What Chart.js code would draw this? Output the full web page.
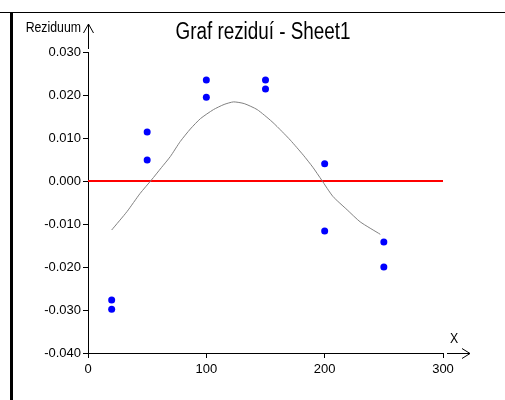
<!DOCTYPE html>
<html>
<head>
<meta charset="utf-8">
<title>Graf reziduí - Sheet1</title>
<script src="https://cdn.jsdelivr.net/npm/chart.js@4.4.1/dist/chart.umd.min.js"></script>
<style>
  html, body { margin: 0; padding: 0; background: #fff; }
  #chart { display: block; }
</style>
</head>
<body>
<canvas id="chart" width="505" height="400"></canvas>
<script>
/* residual plot - scatter of residuals, zero line and smoothed trend */
const FONT = "'Liberation Sans', Arial, sans-serif";
const NARROW = 0.82; // horizontal squeeze to mimic a narrow face

const chartTitle = 'Graf reziduí - Sheet1';
const yAxisLabel = 'Reziduum';
const xAxisLabel = 'X';

// residuals
const pointX = [20, 20, 50, 50, 100, 100, 150, 150, 200, 200, 250, 250];
const residual = [-0.0277, -0.0298, 0.0114, 0.0049, 0.0235, 0.0195, 0.0235, 0.0214, 0.0040, -0.0116, -0.0142, -0.0200];

// grey smoothed trend
const trendX = [20, 33, 44, 53.5, 62, 69.6, 78, 86.5, 95, 106, 115, 123, 132, 143, 155.5, 164, 171, 182, 190, 197.5, 207, 219, 230, 247];
const trendY = [-0.0114, -0.0071, -0.0029, 0.0002, 0.0031, 0.0057, 0.0092, 0.0121, 0.0145, 0.0166, 0.0178, 0.0184, 0.0180, 0.0166, 0.0138, 0.0115, 0.0095, 0.0060, 0.0032, 0.0002, -0.0036, -0.0067, -0.0095, -0.0124];

// zero reference line
const zeroX = [0, 300];
const zeroY = [0, 0];

// axis ranges / ticks
const xMin = 0, xMax = 300, xStep = 100;
const yMin = -0.04, yMax = 0.03, yStep = 0.01;

(function(){
  'use strict';

  const toXY = (xs, ys) => xs.map((x, i) => ({ x: x, y: ys[i] }));

  // squeezed text helper
  function narrowText(ctx, text, x, y, size, align){
    ctx.save();
    ctx.font = size + 'px ' + FONT;
    ctx.textAlign = align;
    ctx.textBaseline = 'alphabetic';
    ctx.translate(x, y);
    ctx.scale(NARROW, 1);
    ctx.fillText(text, 0, 0);
    ctx.restore();
  }

  // frame, arrows and captions drawn on top of the chart
  const decorations = {
    id: 'decorations',
    afterDraw(chart){
      const ctx = chart.ctx;
      const xs = chart.scales.x, ys = chart.scales.y;
      const ax = xs.getPixelForValue(xMin);
      const ay = ys.getPixelForValue(yMin);
      const top = ys.getPixelForValue(yMax);
      const right = xs.getPixelForValue(xMax);
      ctx.save();
      ctx.strokeStyle = '#000';
      ctx.fillStyle = '#000';

      // outer frame: top line and thick left bar
      ctx.lineWidth = 1;
      ctx.beginPath();
      ctx.moveTo(0, 12.5); ctx.lineTo(505, 12.5);
      ctx.stroke();
      ctx.lineWidth = 3;
      ctx.beginPath();
      ctx.moveTo(11.5, 12); ctx.lineTo(11.5, 400);
      ctx.stroke();

      // y arrow
      ctx.lineWidth = 1;
      const yx = Math.round(ax) + 0.5;
      ctx.beginPath();
      ctx.moveTo(yx, top - 3); ctx.lineTo(yx, top - 28);
      ctx.moveTo(yx - 5, top - 19); ctx.lineTo(yx, top - 28); ctx.lineTo(yx + 5, top - 19);
      ctx.stroke();

      // x arrow
      const xy = Math.round(ay) + 0.5;
      ctx.beginPath();
      ctx.moveTo(right + 4, xy); ctx.lineTo(right + 27, xy);
      ctx.moveTo(right + 19, xy - 5); ctx.lineTo(right + 27, xy); ctx.lineTo(right + 19, xy + 5);
      ctx.stroke();

      // captions
      narrowText(ctx, chartTitle, 263, 38.5, 23, 'center');
      narrowText(ctx, yAxisLabel, 81, 32, 15, 'right');
      narrowText(ctx, xAxisLabel, 454, 343, 15, 'center');
      ctx.restore();
    }
  };

  const canvas = document.getElementById('chart');
  new Chart(canvas.getContext('2d'), {
    type: 'scatter',
    data: {
      datasets: [
        {
          label: 'Rezidua',
          data: toXY(pointX, residual),
          backgroundColor: '#0000ff',
          borderColor: '#0000ff',
          borderWidth: 0,
          pointRadius: 3.5,
          order: 0
        },
        {
          type: 'line',
          label: 'Trend',
          data: toXY(trendX, trendY),
          borderColor: '#808080',
          borderWidth: 1,
          pointRadius: 0,
          tension: 0.2,
          fill: false,
          order: 1
        },
        {
          type: 'line',
          label: 'Nula',
          data: toXY(zeroX, zeroY),
          borderColor: '#ff0000',
          borderWidth: 2,
          pointRadius: 0,
          fill: false,
          order: 2
        }
      ]
    },
    options: {
      responsive: false,
      animation: false,
      devicePixelRatio: 1,
      layout: { padding: { left: 0, top: 52, right: 62, bottom: 0 } },
      scales: {
        x: {
          type: 'linear',
          min: xMin,
          max: xMax,
          afterFit: s => { s.height = 47; },
          ticks: {
            stepSize: xStep,
            color: '#000',
            padding: 4,
            maxRotation: 0,
            font: { family: FONT, size: 13 }
          },
          grid: { drawOnChartArea: false, drawTicks: true, tickLength: 5, color: '#000' },
          border: { display: true, color: '#000', width: 1 }
        },
        y: {
          type: 'linear',
          min: yMin,
          max: yMax,
          afterFit: s => { s.width = 88; },
          ticks: {
            stepSize: yStep,
            color: '#000',
            padding: 2,
            font: { family: FONT, size: 13 },
            callback: v => (Math.abs(v) < 1e-9 ? 0 : v).toFixed(3)
          },
          grid: { drawOnChartArea: false, drawTicks: true, tickLength: 5, color: '#000' },
          border: { display: true, color: '#000', width: 1 }
        }
      },
      plugins: {
        legend: { display: false },
        tooltip: { enabled: false },
        title: { display: false }
      }
    },
    plugins: [decorations]
  });
})();
</script>
</body>
</html>
